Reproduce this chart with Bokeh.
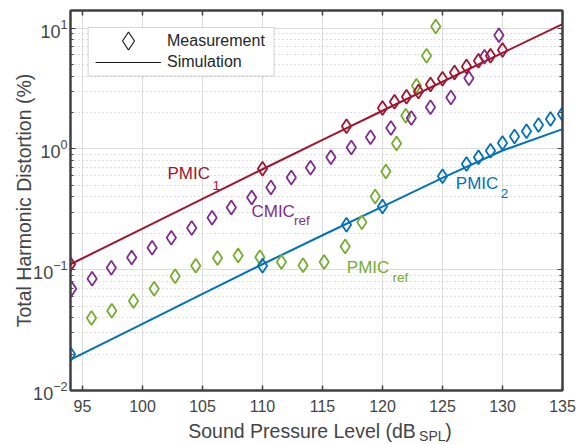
import numpy as np
from bokeh.plotting import figure
from bokeh.layouts import column
from bokeh.embed import file_html
from bokeh.resources import INLINE
from bokeh.models import (Range1d, FixedTicker, LogTicker, Label, Legend, LegendItem,
                          LinearAxis, LogAxis, CustomJSTickFormatter, BoxAnnotation)

# ---------------- data ----------------
x_ticks = [95, 100, 105, 110, 115, 120, 125, 130, 135]

pmic1_meas_x = [94, 110, 117, 120, 121, 122, 123, 124, 125, 126, 127, 128, 129, 130]
pmic1_meas_y = [0.111, 0.684, 1.54, 2.18, 2.46, 2.70, 2.99, 3.42, 3.81, 4.30, 4.82, 5.37, 5.91, 6.58]

pmic2_meas_x = [94, 110, 117, 120, 125, 127, 128, 129, 130, 131, 132, 133, 134, 135]
pmic2_meas_y = [0.020, 0.108, 0.236, 0.333, 0.594, 0.752, 0.853, 0.968, 1.12, 1.27, 1.40, 1.58, 1.77, 1.95]

cmicref_x = [94.1, 95.8, 97.4, 99.1, 100.8, 102.4, 104.1, 105.8, 107.4, 109.1, 110.7, 112.4,
             114.0, 115.7, 117.4, 119.0, 120.7, 122.4, 124.0, 125.7, 127.2, 128.5, 129.7]
cmicref_y = [0.0697, 0.0843, 0.104, 0.126, 0.152, 0.184, 0.222, 0.269, 0.327, 0.396, 0.479, 0.579,
             0.697, 0.853, 1.03, 1.25, 1.49, 1.80, 2.21, 2.67, 3.84, 5.79, 8.75]

pmicref_x = [95.75, 97.44, 99.25, 100.97, 102.72, 104.44, 106.25, 107.97, 109.78, 111.58, 113.38,
             115.14, 116.89, 118.28, 119.39, 120.28, 121.17, 121.94, 122.83, 123.67, 124.44]
pmicref_y = [0.0398, 0.0458, 0.0550, 0.0697, 0.0881, 0.108, 0.125, 0.131, 0.127, 0.116, 0.109,
             0.116, 0.156, 0.247, 0.404, 0.649, 1.11, 1.88, 3.33, 5.90, 10.3]

sim_x = [94, 100, 105, 110, 115, 120, 125, 130, 135]
pmic1_sim_y = [0.111, 0.219, 0.386, 0.679, 1.19, 2.07, 3.60, 6.24, 10.8]
pmic2_sim_y = [0.0180, 0.0356, 0.0630, 0.111, 0.193, 0.333, 0.575, 0.97, 1.46]

# ---------------- style ----------------
RED = "#A2142F"
BLUE = "#0072BD"
PURPLE = "#7E2F8E"
GREEN = "#77AC30"
AX = "#404040"
TXT = "#444444"
FONT = "Liberation Sans"

p = figure(frame_width=492, frame_height=380, y_axis_type="log",
           x_range=Range1d(94, 135), y_range=Range1d(0.01, 14),
           output_backend="svg", toolbar_location=None,
           min_border_left=70, min_border_right=20, min_border_top=10, min_border_bottom=28)
p.outline_line_color = AX
p.outline_line_width = 2
p.background_fill_color = "white"

# bottom axis
xa = p.xaxis[0]
xa.ticker = FixedTicker(ticks=x_ticks)
xa.major_tick_in = 5
xa.major_tick_out = 0
xa.minor_tick_line_color = None
xa.axis_line_width = 2
xa.axis_line_color = AX
xa.major_tick_line_color = AX
xa.major_tick_line_width = 1.5
xa.major_label_text_font = FONT
xa.major_label_text_font_size = "16px"
xa.major_label_text_color = TXT
xa.major_label_standoff = 9

# left axis
ya = p.yaxis[0]
ya.ticker = LogTicker(num_minor_ticks=10)
ya.major_tick_in = 5
ya.major_tick_out = 0
ya.minor_tick_in = 3
ya.minor_tick_out = 0
ya.axis_line_width = 2
ya.axis_line_color = AX
ya.major_tick_line_color = AX
ya.minor_tick_line_color = AX
ya.major_label_text_font = FONT
ya.major_label_text_font_size = "18px"
ya.major_label_text_color = TXT
ya.major_label_standoff = 3
ya.axis_label = "Total Harmonic Distortion (%)"
ya.axis_label_text_font = FONT
ya.axis_label_text_font_size = "19.5px"
ya.axis_label_text_font_style = "normal"
ya.axis_label_text_color = TXT
ya.axis_label_standoff = -5

# mirrored tick marks on top and right
top = LinearAxis(ticker=FixedTicker(ticks=x_ticks),
                 formatter=CustomJSTickFormatter(code="return ''"),
                 major_tick_in=5, major_tick_out=0, minor_tick_line_color=None,
                 axis_line_width=2, axis_line_color=AX, major_tick_line_color=AX,
                 major_tick_line_width=1.5,
                 major_label_text_font_size="0px", major_label_standoff=0)
p.add_layout(top, "above")
right = LogAxis(ticker=LogTicker(num_minor_ticks=10),
                formatter=CustomJSTickFormatter(code="return ''"),
                major_tick_in=5, major_tick_out=0, minor_tick_in=3, minor_tick_out=0,
                axis_line_width=2, axis_line_color=AX, major_tick_line_color=AX,
                minor_tick_line_color=AX,
                major_label_text_font_size="0px", major_label_standoff=0)
p.add_layout(right, "right")

# grids
p.xgrid.grid_line_color = "#dcdcdc"
p.ygrid.grid_line_color = "#dcdcdc"
p.ygrid.minor_grid_line_color = "#c0c0c0"
p.ygrid.minor_grid_line_dash = "1 3"

# simulation lines
p.line(sim_x, pmic1_sim_y, line_color=RED, line_width=2)
p.line(sim_x, pmic2_sim_y, line_color=BLUE, line_width=2)

# measurements
MS = 14
MW = 1.8
p.scatter(pmicref_x, pmicref_y, marker="diamond", size=MS, fill_color=None, line_color=GREEN, line_width=MW)
p.scatter(cmicref_x, cmicref_y, marker="diamond", size=MS, fill_color=None, line_color=PURPLE, line_width=MW)
p.scatter(pmic2_meas_x, pmic2_meas_y, marker="diamond", size=MS, fill_color=None, line_color=BLUE, line_width=MW)
p.scatter(pmic1_meas_x, pmic1_meas_y, marker="diamond", size=MS, fill_color=None, line_color=RED, line_width=MW)

# legend: frame box + two single-item legends (renderers with no visible data)
p.add_layout(BoxAnnotation(left=95.47, right=110.97, top=10.12, bottom=4.01,
                           fill_color="white", fill_alpha=1,
                           line_color="#707070", line_width=1))
nan = np.array([np.nan])
r_m = p.scatter(nan, nan, marker="diamond", fill_color=None, line_color="#1a1a1a", line_width=1.2)
r_s = p.line(nan, nan, line_color="#1a1a1a", line_width=1)
common = dict(padding=0, spacing=0, glyph_width=66, label_standoff=6,
              label_text_font=FONT, label_text_font_size="16px", label_text_color="#262626",
              border_line_color=None, background_fill_alpha=0)
leg1 = Legend(items=[LegendItem(label="Measurement", renderers=[r_m])],
              location=(25, 327), glyph_height=45, label_height=45, **common)
leg2 = Legend(items=[LegendItem(label="Simulation", renderers=[r_s])],
              location=(25, 319), glyph_height=18, label_height=18, **common)
p.add_layout(leg1)
p.add_layout(leg2)

# series annotations (y = vertical centre of the text)
def lab(fig, x, y, text, color, size, align="left"):
    fig.add_layout(Label(x=x, y=y, text=text, text_color=color, text_font=FONT,
                         text_font_size=size, text_baseline="middle", text_align=align))

lab(p, 102.08, 0.621, "PMIC", RED, "17px")
lab(p, 105.83, 0.498, "1", RED, "13.5px")
lab(p, 109.08, 0.302, "CMIC", PURPLE, "17px")
lab(p, 112.63, 0.255, "ref", PURPLE, "13.5px")
lab(p, 126.11, 0.516, "PMIC", BLUE, "17px")
lab(p, 129.86, 0.431, "2", BLUE, "13.5px")
lab(p, 117.03, 0.1035, "PMIC", GREEN, "17px")
lab(p, 120.83, 0.0865, "ref", GREEN, "13.5px")

# x axis title strip (with subscript)
q = figure(frame_width=492, frame_height=26, x_range=p.x_range, y_range=Range1d(0, 1),
           output_backend="svg", toolbar_location=None,
           x_axis_location=None, y_axis_location=None,
           min_border_left=70, min_border_right=20, min_border_top=0, min_border_bottom=0)
q.grid.visible = False
q.outline_line_color = None
lab(q, 122.78, 0.52, "Sound Pressure Level (dB", TXT, "19.5px", "right")
lab(q, 123.05, 0.33, "SPL", TXT, "14px")
lab(q, 125.23, 0.52, ")", TXT, "19.5px")

layout = column(p, q, spacing=0)
open("out.html", "w").write(file_html(layout, INLINE))
